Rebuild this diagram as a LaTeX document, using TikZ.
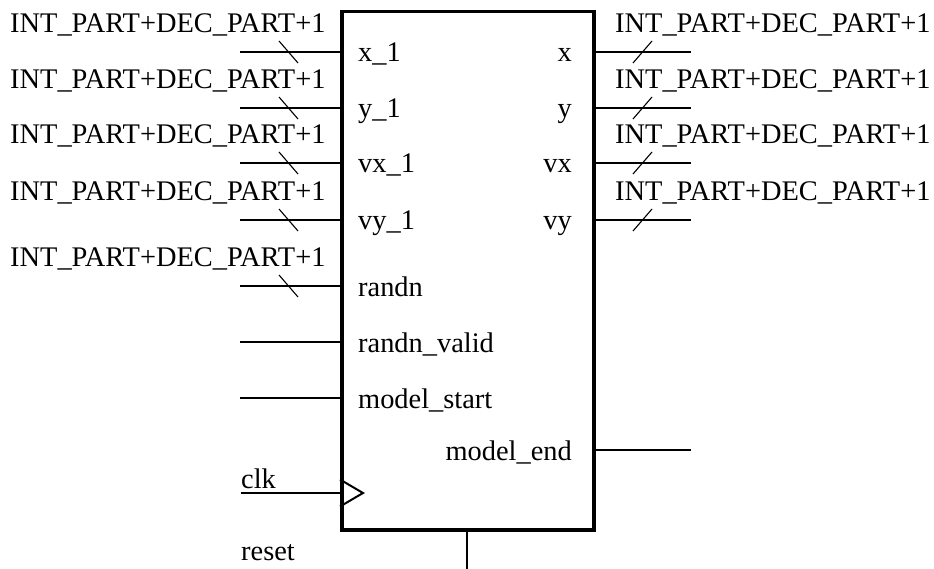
\documentclass[tikz,border=0pt]{standalone}
\usepackage{fontspec}
\setmainfont{Liberation Serif}
\begin{document}
\begin{tikzpicture}[x=1pt,y=-1pt,
  pin/.style={line width=1.3pt},
  busmark/.style={line width=1.1pt},
  lbl/.style={inner sep=0pt, font=\fontsize{28.4}{30}\selectfont},
]
\useasboundingbox (0,0) rectangle (934,569);

% the module body
\node[draw, line width=3.5pt, minimum width=252pt, minimum height=518pt,
      inner sep=0pt, anchor=north west] (box) at (340,10) {};

% left-hand inputs
\foreach \p/\yy/\t in {xi/52/x\_1, yi/108/y\_1, vxi/163/vx\_1, vyi/220/vy\_1,
                       randn/286/randn, randnvalid/342/randn\_valid,
                       modelstart/398/model\_start}{
  \coordinate (\p-end) at (240,\yy);
  \draw[pin] (\p-end) -- (\p-end -| box.west);
  \node[lbl, anchor=base west] (\p-name) at (358,{\yy+10}) {\t};
}

% bus width marks on the wide inputs
\foreach \p/\yy in {xi/52, yi/108, vxi/163, vyi/220, randn/286}{
  \coordinate (\p-bus) at (288.5,\yy);
  \draw[busmark] ([shift={(-9.5,-11)}]\p-bus) -- ([shift={(9.5,11)}]\p-bus);
  \node[lbl, anchor=base west] (\p-width) at (10,{\yy-19}) {INT\_PART+DEC\_PART+1};
}

% right-hand outputs
\foreach \p/\yy/\t in {xo/52/x, yo/108/y, vxo/163/vx, vyo/220/vy}{
  \coordinate (\p-end) at (691,\yy);
  \draw[pin] (\p-end -| box.east) -- (\p-end);
  \coordinate (\p-bus) at (642.5,\yy);
  \draw[busmark] ([shift={(-9.5,11)}]\p-bus) -- ([shift={(9.5,-11)}]\p-bus);
  \node[lbl, anchor=base west] (\p-width) at (615,{\yy-19}) {INT\_PART+DEC\_PART+1};
  \node[lbl, anchor=base east] (\p-name) at (572,{\yy+10}) {\t};
}

% model_end output
\coordinate (modelend-end) at (691,450);
\draw[pin] (modelend-end -| box.east) -- (modelend-end);
\node[lbl, anchor=base east] (modelend-name) at (572,460) {model\_end};

% clock input with edge marker
\coordinate (clk-end) at (241,493);
\draw[pin] (clk-end) -- (clk-end -| box.west);
\draw[line width=2pt, line join=miter] (clk-end -| box.west) ++(0,-13.5) -- ++(23,13.5) -- ++(-23,13.5);
\node[lbl, anchor=base west] (clk-name) at (241,488) {clk};

% reset input from below
\coordinate (reset-end) at (467,569);
\draw[pin] (reset-end |- box.south) -- (reset-end);
\node[lbl, anchor=base west] (reset-name) at (241,560) {reset};
\end{tikzpicture}
\end{document}
